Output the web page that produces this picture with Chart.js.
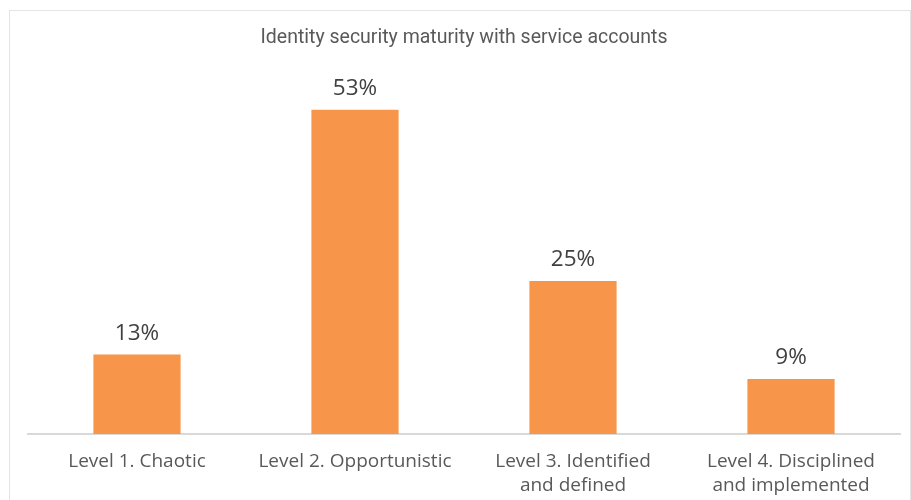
<!DOCTYPE html>
<html lang="en">
  <head>
    <meta charset="UTF-8" />
    <title>Identity security maturity</title>
    <script src="https://cdn.jsdelivr.net/npm/chart.js@4"></script>
  </head>
  <style>
    html, body { margin: 0; padding: 0; background: #fff; }
    .frame {
      position: absolute;
      left: 9px;
      top: 10px;
      width: 900px;
      height: 490px;
      border: 1px solid #e4e4e4;
      border-bottom: none;
    }
  </style>
  <body>
    <div class="frame">
      <canvas id="myChart" width="900" height="489"></canvas>
    </div>
  </body>
  <script>
    var levelLabels = [
      ['Level 1. Chaotic'],
      ['Level 2. Opportunistic'],
      ['Level 3. Identified', 'and defined'],
      ['Level 4. Disciplined', 'and implemented']
    ];
    var shareValues = [13, 53, 25, 9];
    var chartTitle = 'Identity security maturity with service accounts';

    // percent labels above each bar
    var valueLabels = {
      id: 'valueLabels',
      afterDatasetsDraw: function(chart) {
        var ctx = chart.ctx;
        var meta = chart.getDatasetMeta(0);
        ctx.save();
        ctx.font = '22.5px "Open Sans"';
        ctx.fillStyle = '#404040';
        ctx.textAlign = 'center';
        ctx.textBaseline = 'middle';
        meta.data.forEach(function(bar, i) {
          ctx.fillText(shareValues[i] + '%', bar.x, bar.y - 21);
        });
        ctx.restore();
      }
    };

    var ctx = document.getElementById('myChart');
    new Chart(ctx, {
      type: 'bar',
      data: {
        labels: levelLabels,
        datasets: [{
          data: shareValues,
          backgroundColor: '#F7964A',
          categoryPercentage: 1,
          barPercentage: 0.4
        }]
      },
      options: {
        responsive: false,
        animation: false,
        layout: { padding: { left: 18, right: 10, top: 0, bottom: 0 } },
        plugins: {
          legend: { display: false },
          tooltip: { enabled: false },
          title: {
            display: true,
            text: chartTitle,
            color: '#595959',
            font: { family: 'Roboto', size: 19.5, weight: 'normal' },
            padding: { top: 15, bottom: 17.6 }
          }
        },
        scales: {
          x: {
            grid: { display: false },
            border: { display: true, color: '#d9d9d9', width: 2 },
            ticks: {
              color: '#595959',
              font: { family: 'Open Sans', size: 19, lineHeight: 1.3 },
              padding: 7,
              maxRotation: 0
            },
            afterFit: function(scale) { scale.height = 66; }
          },
          y: {
            display: false,
            min: 0,
            max: 60
          }
        }
      },
      plugins: [valueLabels]
    });
  </script>
</html>
